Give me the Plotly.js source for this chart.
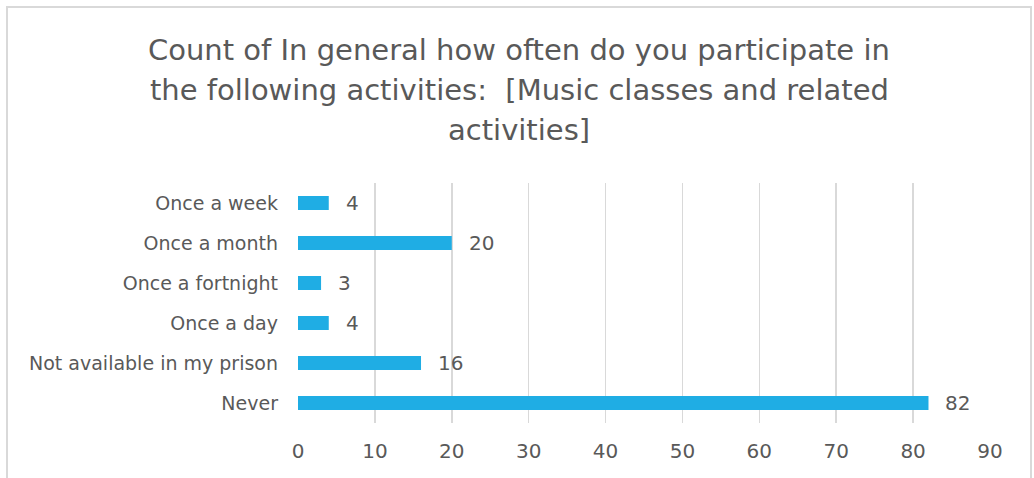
<!DOCTYPE html>
<html>
<head>
<meta charset="utf-8">
<script src="https://cdn.plot.ly/plotly-3.0.1.min.js"></script>
<style>
  html, body { margin: 0; padding: 0; background: #fff; overflow: hidden; }
  #chart { width: 1034px; height: 478px; }
  #frame { position: absolute; left: 6px; top: 6px; width: 1026px; height: 490px;
           border: 2px solid #D9D9D9; box-sizing: border-box; pointer-events: none; }
</style>
</head>
<body>
<div id="chart"></div>
<div id="frame"></div>
<script>
const categories = ["Once a week", "Once a month", "Once a fortnight", "Once a day", "Not available in my prison", "Never"];
const counts = [4, 20, 3, 4, 16, 82];
const xTicks = [0, 10, 20, 30, 40, 50, 60, 70, 80, 90];
const titleLines = [
  "Count of In general how often do you participate in",
  "the following activities:  [Music classes and related",
  "activities]"
];

const FONT = "'Century Gothic', 'DejaVu Sans', sans-serif";
const GREY = "#595959";

const trace = {
  type: "bar",
  orientation: "h",
  y: categories,
  x: counts,
  width: 0.35,
  marker: { color: "#1FADE4" },
  hoverinfo: "x+y"
};

const labelAnnotations = counts.map((v, i) => ({
  x: v, y: categories[i], xref: "x", yref: "y",
  text: String(v), showarrow: false, xanchor: "left", xshift: 15,
  font: { family: FONT, size: 20, color: GREY }
}));

const titleY = [1.554, 1.3875, 1.221];
const titleAnnotations = titleLines.map((t, i) => ({
  x: 0.3194, y: titleY[i], xref: "paper", yref: "paper",
  text: t, showarrow: false, xanchor: "center", yanchor: "middle",
  font: { family: FONT, size: 29, color: GREY }
}));

const layout = {
  width: 1034, height: 478,
  margin: { l: 298, r: 44, t: 183, b: 55 },
  paper_bgcolor: "#ffffff", plot_bgcolor: "#ffffff",
  font: { family: FONT, color: GREY, size: 19 },
  xaxis: {
    range: [0, 90], tickvals: xTicks, ticktext: xTicks.map(String),
    showgrid: true, gridcolor: "#D9D9D9", gridwidth: 1.5,
    zeroline: false, showline: false, ticks: "",
    ticklabelstandoff: 14,
    tickfont: { family: FONT, size: 20, color: GREY },
    fixedrange: true
  },
  yaxis: {
    autorange: "reversed", type: "category",
    showgrid: false, zeroline: false, showline: false, ticks: "",
    ticklabelstandoff: 19,
    tickfont: { family: FONT, size: 19, color: GREY },
    fixedrange: true
  },
  annotations: titleAnnotations.concat(labelAnnotations),
  showlegend: false
};

Plotly.newPlot("chart", [trace], layout, { displayModeBar: false, staticPlot: true });
</script>
</body>
</html>
